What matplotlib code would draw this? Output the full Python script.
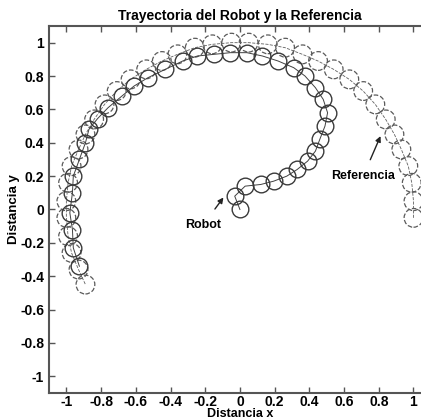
import matplotlib
matplotlib.use('Agg')
import matplotlib.pyplot as plt

# trayectoria del robot (centros de los circulos)
robot_x = [0.0, -0.03, 0.03, 0.12, 0.195, 0.27, 0.33, 0.39, 0.435, 0.46, 0.49, 0.505,
           0.48, 0.435, 0.375, 0.31, 0.22, 0.13, 0.04, -0.055, -0.15, -0.245, -0.33,
           -0.43, -0.53, -0.61, -0.68, -0.76, -0.82, -0.87, -0.89, -0.925, -0.96,
           -0.965, -0.98, -0.965, -0.96, -0.925]
robot_y = [0.0, 0.08, 0.14, 0.15, 0.17, 0.20, 0.24, 0.29, 0.35, 0.42, 0.50, 0.58,
           0.66, 0.73, 0.80, 0.85, 0.89, 0.92, 0.94, 0.94, 0.93, 0.92, 0.89,
           0.84, 0.79, 0.74, 0.68, 0.61, 0.545, 0.48, 0.40, 0.30, 0.20,
           0.10, -0.02, -0.12, -0.23, -0.34]

# trayectoria de referencia
ref_x = [1.00, 1.00, 0.99, 0.97, 0.93, 0.89, 0.84, 0.78, 0.71, 0.63, 0.54, 0.45,
         0.36, 0.26, 0.16, 0.05, -0.05, -0.16, -0.26, -0.36, -0.45, -0.54, -0.63,
         -0.71, -0.78, -0.84, -0.89, -0.93, -0.97, -0.99, -1.00, -1.00, -0.99,
         -0.97, -0.93, -0.89]
ref_y = [-0.05, 0.05, 0.16, 0.26, 0.36, 0.45, 0.54, 0.63, 0.71, 0.78, 0.84, 0.89,
         0.93, 0.97, 0.99, 1.00, 1.00, 0.99, 0.97, 0.93, 0.89, 0.84, 0.78,
         0.71, 0.63, 0.54, 0.45, 0.36, 0.26, 0.16, 0.05, -0.05, -0.16,
         -0.26, -0.36, -0.45]

ticks = [-1, -0.8, -0.6, -0.4, -0.2, 0, 0.2, 0.4, 0.6, 0.8, 1]
tick_labels = ['-1', '-0.8', '-0.6', '-0.4', '-0.2', '0', '0.2', '0.4', '0.6', '0.8', '1']

plt.rcParams['font.family'] = ['Liberation Sans', 'DejaVu Sans']
plt.rcParams['font.weight'] = 'bold'

fig = plt.figure(figsize=(4.21, 4.19), dpi=100)
ax = fig.add_axes([0.1164, 0.062, 0.907, 0.876])

ax.plot(ref_x, ref_y, '--', color='#606060', lw=0.6)
ax.scatter(ref_x, ref_y, s=13.5 ** 2, facecolors='none', edgecolors='#5a5a5a',
           linestyles='--', linewidths=0.9)
ax.plot(robot_x, robot_y, '-', color='#404040', lw=0.7)
ax.plot(robot_x, robot_y, 'o', ms=12, mfc='none', mec='#3a3a3a', mew=1.0)

ax.annotate('Robot', xy=(-0.095, 0.072), xytext=(-0.21, -0.09),
            ha='center', va='center', fontsize=9, fontweight='bold',
            arrowprops=dict(arrowstyle='-|>', color='#222222', lw=1.0,
                            mutation_scale=8, shrinkA=6, shrinkB=0))
ax.annotate('Referencia', xy=(0.81, 0.44), xytext=(0.71, 0.20),
            ha='center', va='center', fontsize=9, fontweight='bold',
            arrowprops=dict(arrowstyle='-|>', color='#222222', lw=1.0,
                            mutation_scale=8, shrinkA=6, shrinkB=0))

ax.set_xlim(-1.1, 1.1)
ax.set_ylim(-1.1, 1.1)
ax.set_xticks(ticks)
ax.set_xticklabels(tick_labels)
ax.set_yticks(ticks)
ax.set_yticklabels(tick_labels)
ax.tick_params(direction='in', top=True, right=True, length=4, width=1,
               labelsize=10, color='#555555')
ax.tick_params(axis='x', pad=1.5)
for sp in ax.spines.values():
    sp.set_linewidth(1.5)
    sp.set_color('#555555')

ax.set_title('Trayectoria del Robot y la Referencia', fontsize=10,
             fontweight='bold', pad=4)
ax.set_xlabel('Distancia x', fontsize=9, fontweight='bold', labelpad=-0.5)
ax.set_ylabel('Distancia y', fontsize=9.5, fontweight='bold', labelpad=0)

fig.savefig('out.png', dpi=100)
